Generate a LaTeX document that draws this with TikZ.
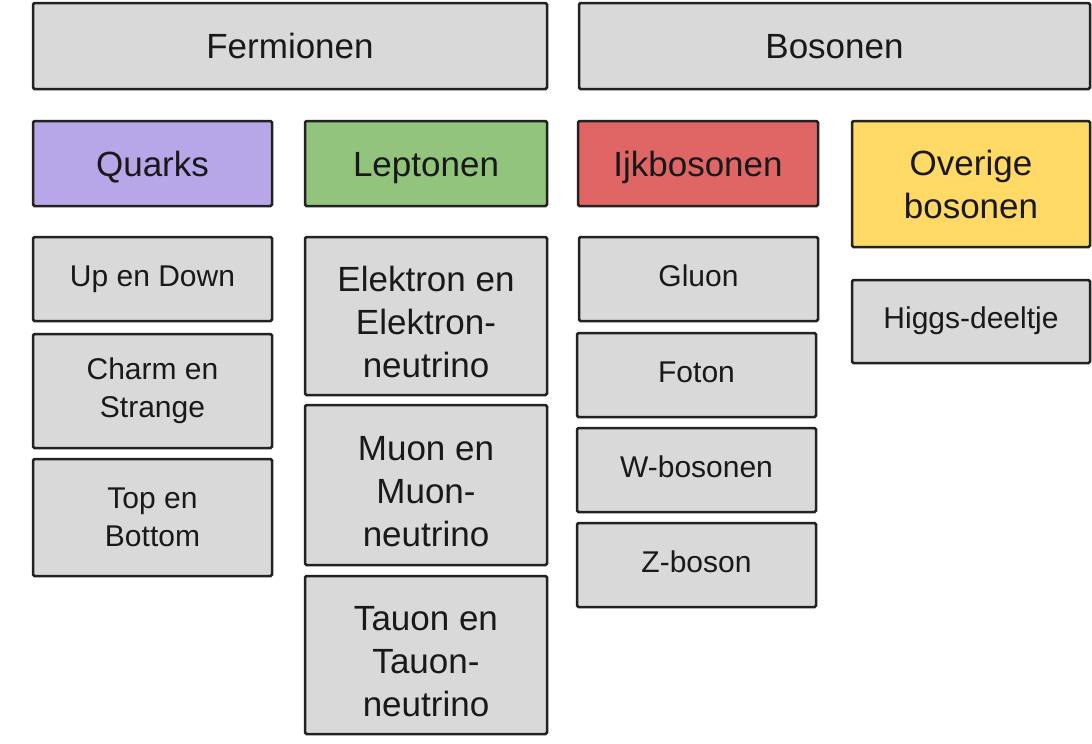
\documentclass[tikz,border=0pt]{standalone}
\usepackage{fontspec}
\setmainfont{Liberation Sans}
\definecolor{boxgray}{HTML}{D9D9D9}
\definecolor{quarkpurple}{HTML}{B8A7E8}
\definecolor{leptongreen}{HTML}{93C47D}
\definecolor{gaugered}{HTML}{E06666}
\definecolor{otheryellow}{HTML}{FFD966}
\definecolor{edge}{HTML}{222222}
% tall strut that lowers a three-line label a little
\newcommand{\lowstrut}{\rule{0pt}{38pt}}
\tikzset{
  cell/.style={draw=edge, line width=2.5pt, rounded corners=1.5pt, fill=boxgray,
    align=center, inner sep=0pt, text=black!90},
  bigtext/.style={font=\fontsize{35}{43}\selectfont},
  smalltext/.style={font=\fontsize{30}{38}\selectfont},
  % single-line labels: fixed height/depth so all sit alike
  bigline/.style={bigtext, text height=25pt, text depth=0pt},
  smallline/.style={smalltext, text height=21.5pt, text depth=7pt},
}
\begin{document}
\begin{tikzpicture}[x=1pt, y=-1pt]
  \useasboundingbox (0,0) rectangle (1092,744);

  % top level
  \node[cell, bigline, minimum width=514, minimum height=86] (ferm) at (290,46) {Fermionen};
  \node[cell, bigline, minimum width=511, minimum height=86] (bos) at (834.5,46) {Bosonen};

  % groups
  \node[cell, bigline, fill=quarkpurple, minimum width=239, minimum height=85] (quarks) at (152.5,163.5) {Quarks};
  \node[cell, bigline, fill=leptongreen, minimum width=242, minimum height=85] (leptons) at (426,163.5) {Leptonen};
  \node[cell, bigline, fill=gaugered, minimum width=240, minimum height=85] (gauge) at (698,163.5) {Ijkbosonen};
  \node[cell, bigtext, fill=otheryellow, minimum width=238, minimum height=126] (other) at (971,184) {Overige\\bosonen};

  % quarks
  \node[cell, smallline, minimum width=239, minimum height=84] (updown) at (152.5,279) {Up en Down};
  \node[cell, smalltext, minimum width=239, minimum height=114] (charm) at (152.5,391) {Charm en\\Strange};
  \node[cell, smalltext, minimum width=239, minimum height=117] (topbot) at (152.5,517.5) {Top en\\Bottom};

  % leptons
  \node[cell, bigtext, minimum width=242, minimum height=158] (elec) at (426,316) {\lowstrut Elektron en\\Elektron-\\neutrino};
  \node[cell, bigtext, minimum width=242, minimum height=160] (muon) at (426,485) {\lowstrut Muon en\\Muon-\\neutrino};
  \node[cell, bigtext, minimum width=242, minimum height=158] (tau) at (426,655) {\lowstrut Tauon en\\Tauon-\\neutrino};

  % gauge bosons
  \node[cell, smallline, minimum width=239, minimum height=84] (gluon) at (698.5,279) {Gluon};
  \node[cell, smallline, minimum width=239, minimum height=84] (photon) at (696.5,375) {Foton};
  \node[cell, smallline, minimum width=239, minimum height=84] (wbos) at (696.5,470) {W-bosonen};
  \node[cell, smallline, minimum width=239, minimum height=84] (zbos) at (696.5,565) {Z-boson};

  % other bosons
  \node[cell, smallline, minimum width=238, minimum height=83] (higgs) at (971,321.5) {Higgs-deeltje};
\end{tikzpicture}
\end{document}
